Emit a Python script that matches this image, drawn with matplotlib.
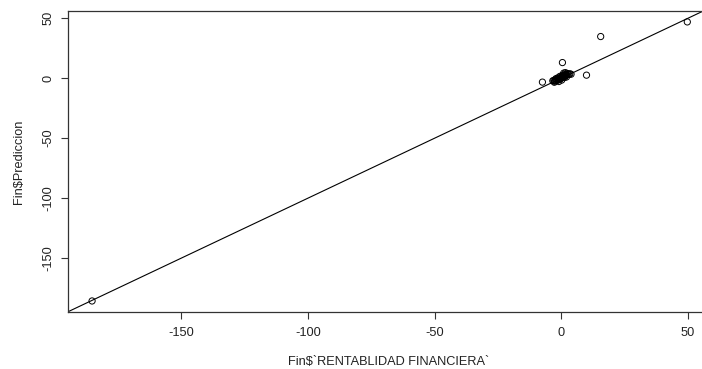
import matplotlib.pyplot as plt

plt.rcParams['font.family'] = ['Liberation Sans', 'DejaVu Sans']
plt.rcParams['axes.unicode_minus'] = False

rentabilidad = [-185.3, 49.7, 15.5, 0.4, 9.9, -7.5,
                -3.4, -3.0, -2.7, -2.4, -2.1, -1.8, -1.6, -1.3, -1.1, -0.9,
                -0.7, -0.5, -0.3, -0.1, 0.0, 0.2, 0.3, 0.5, 0.6, 0.8,
                1.0, 1.1, 1.3, 1.5, 1.7, 1.9, 2.2, 2.5, 2.9, 3.3, 3.8,
                -1.5, -0.6, 0.4, 1.2, 2.0, -2.2, 0.9, 1.6, -2.8, -1.0, 0.1]
prediccion = [-185.8, 46.9, 34.7, 13.0, 2.5, -3.3,
              -2.2, -1.9, -2.6, -1.4, -2.1, -1.0, -1.8, -0.6, -1.3, -0.2,
              -0.9, 0.3, -0.4, 0.8, 0.1, 1.2, 0.5, 1.6, 0.9, 2.0,
              1.3, 2.6, 1.8, 3.0, 2.2, 3.4, 2.7, 3.8, 3.1, 3.6, 3.3,
              0.2, 1.5, 2.4, 0.5, 1.0, -0.5, 4.2, 4.6, -3.4, -2.8, -1.6]

fig = plt.figure(figsize=(7.02, 3.69), dpi=100)
ax = fig.add_axes([68 / 702, 57 / 369, 641.6 / 702, 301 / 369])

ax.scatter(rentabilidad, prediccion, s=20, facecolors='none',
           edgecolors='black', linewidths=0.7, zorder=3)
ax.axline((0, 0), slope=1, color='black', linewidth=0.8)

ax.set_xlim(-194.8, 58.5)
ax.set_ylim(-195, 56)
ax.set_xticks([-150, -100, -50, 0, 50])
ax.set_yticks([-150, -100, -50, 0, 50])

for s in ax.spines.values():
    s.set_color('#333333')
    s.set_linewidth(0.9)

ax.tick_params(direction='out', length=5, width=0.8, color='#333333',
               labelsize=9.2, labelcolor='#222222', pad=6)
ax.tick_params(axis='y', pad=5)
for lab in ax.get_yticklabels():
    lab.set_rotation(90)
    lab.set_va('center')

ax.set_xlabel("Fin$`RENTABLIDAD FINANCIERA`", fontsize=9.2,
              color='#222222', labelpad=12)
ax.set_ylabel("Fin$Prediccion", fontsize=9.2, color='#222222', labelpad=12)

fig.savefig('out.png', dpi=100)
